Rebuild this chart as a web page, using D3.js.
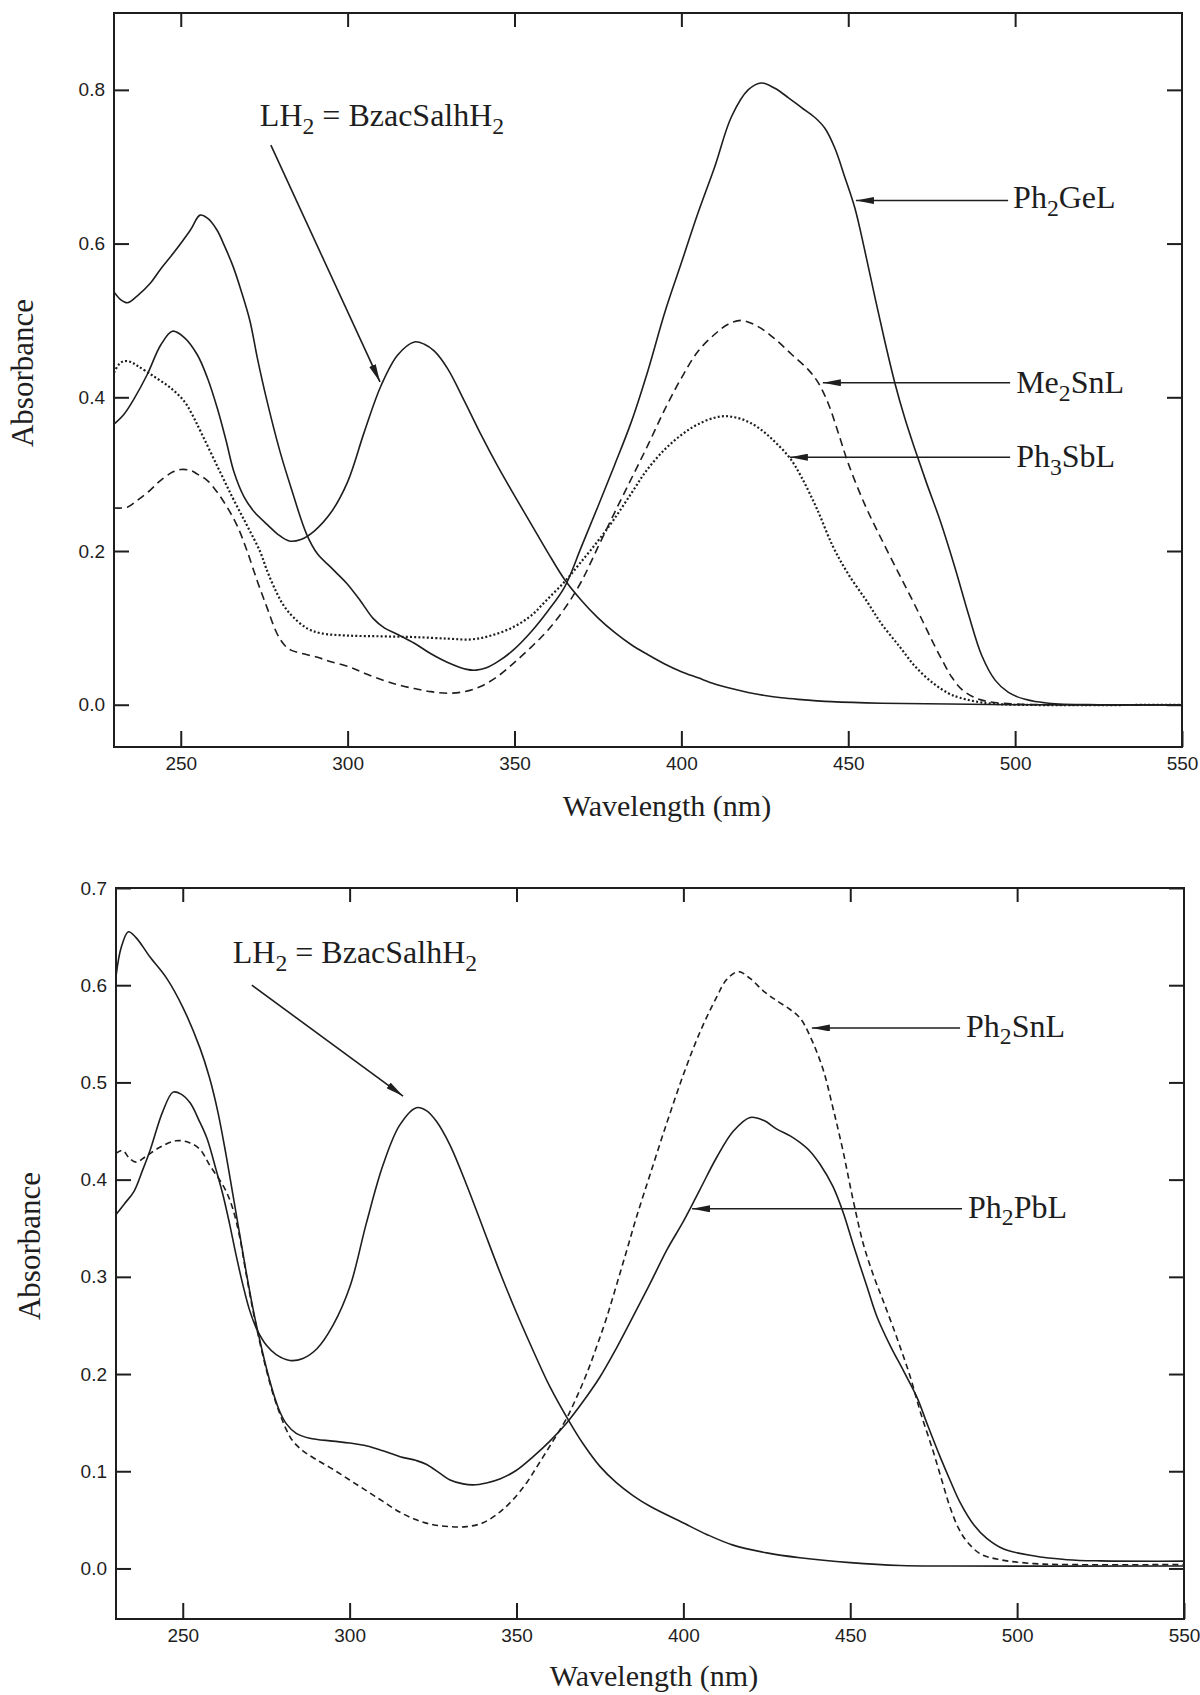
<!DOCTYPE html>
<html><head><meta charset="utf-8">
<script src="https://cdn.jsdelivr.net/npm/d3@7"></script>
<style>body{margin:0;background:#fff}svg text{white-space:pre}</style>
</head><body>
<svg id="chart" width="1200" height="1695"></svg>
<script>
// ---------- tick values ----------
const xTicks = [250, 300, 350, 400, 450, 500, 550];
const yTicksTop = [0.0, 0.2, 0.4, 0.6, 0.8];
const yTicksBot = [0.0, 0.1, 0.2, 0.3, 0.4, 0.5, 0.6, 0.7];
const xTitle = "Wavelength (nm)";
const yTitle = "Absorbance";

// ---------- top panel series  [wavelength nm, absorbance] ----------
const topLH2 = [[230,0.365],[233,0.378],[236,0.398],[240,0.43],[244,0.468],[247.5,0.486],[251,0.478],[255,0.455],[258,0.425],[261,0.385],[263.5,0.345],[266,0.302],[269,0.27],[272,0.251],[276,0.234],[279,0.222],[282.5,0.213],[286,0.215],[290,0.226],[295,0.25],[300,0.29],[305,0.355],[310,0.415],[315,0.455],[320,0.472],[323,0.469],[326,0.46],[330,0.437],[335,0.395],[340,0.351],[345,0.31],[350,0.272],[355,0.235],[360,0.198],[365,0.163],[370,0.136],[375,0.113],[380,0.094],[385,0.078],[390,0.065],[395,0.053],[400,0.043],[405,0.035],[410,0.027],[415,0.021],[420,0.016],[425,0.012],[430,0.009],[435,0.007],[445,0.004],[460,0.002],[480,0.001],[500,0],[550,0]];
const topPh2GeL = [[230,0.537],[232,0.527],[234,0.523],[237,0.532],[240.8,0.548],[244,0.567],[247.7,0.587],[252.8,0.617],[255.8,0.637],[258,0.633],[260.8,0.618],[263,0.598],[265.7,0.57],[268,0.54],[270.7,0.5],[273,0.45],[275.8,0.396],[279.7,0.33],[283,0.283],[287.7,0.222],[291,0.196],[294.7,0.18],[297,0.17],[299.7,0.158],[303.7,0.136],[307.7,0.112],[311,0.1],[314.7,0.092],[320,0.08],[324.7,0.067],[330,0.055],[335.7,0.046],[338.5,0.045],[341.6,0.048],[345,0.056],[349.6,0.071],[355,0.095],[360,0.122],[365,0.153],[370,0.205],[375,0.258],[380,0.312],[385,0.368],[390,0.435],[395,0.51],[400,0.575],[405,0.64],[410,0.7],[415,0.765],[420,0.8],[424,0.809],[428,0.802],[432,0.79],[436,0.777],[440,0.764],[443,0.75],[446,0.724],[449,0.686],[452,0.646],[455,0.59],[458,0.53],[461,0.472],[464,0.418],[467,0.372],[470,0.332],[473.5,0.288],[477.5,0.24],[482,0.178],[486,0.118],[490,0.064],[494,0.032],[498,0.016],[503,0.007],[510,0.002],[525,0],[550,0]];
const topMe2SnL = [[230,0.256],[234,0.257],[237,0.266],[240.8,0.279],[244,0.292],[247.7,0.303],[250,0.306],[252.8,0.305],[255,0.3],[257.9,0.292],[261,0.276],[263.9,0.257],[267,0.232],[269.8,0.201],[273,0.16],[275.8,0.127],[278.8,0.093],[281,0.078],[283,0.071],[286,0.067],[290.7,0.062],[295,0.056],[300.7,0.049],[305,0.041],[310.6,0.032],[315,0.026],[320,0.021],[325,0.017],[330,0.015],[335,0.017],[340,0.024],[345,0.037],[350,0.055],[355,0.075],[360,0.097],[365,0.125],[370,0.16],[375,0.205],[380,0.25],[385,0.294],[390,0.338],[395,0.384],[400,0.425],[405,0.46],[410,0.482],[414,0.495],[418,0.5],[423,0.492],[428,0.476],[433,0.456],[438,0.436],[441,0.419],[444,0.392],[447,0.354],[450,0.314],[455,0.26],[460,0.215],[465,0.172],[469,0.138],[472.5,0.107],[475.5,0.08],[478.5,0.055],[481,0.036],[484,0.02],[487.5,0.01],[492,0.004],[500,0.001],[510,0],[550,0]];
const topPh3SbL = [[230,0.432],[231.5,0.443],[233,0.447],[235,0.446],[237,0.441],[242,0.427],[247,0.412],[251,0.395],[253.5,0.377],[256,0.355],[261,0.31],[265.7,0.268],[270,0.232],[273.7,0.2],[276,0.173],[278.7,0.146],[281,0.128],[283.7,0.114],[288,0.099],[292,0.093],[300,0.09],[310,0.089],[320,0.088],[330,0.086],[337,0.085],[343,0.09],[349.6,0.101],[355,0.116],[359.6,0.136],[365,0.16],[369.6,0.184],[375,0.213],[379.6,0.24],[385,0.275],[389.6,0.305],[395,0.332],[400,0.351],[405,0.365],[411.6,0.375],[416,0.374],[420.6,0.367],[425,0.354],[428.5,0.34],[432.5,0.321],[436,0.296],[440.6,0.255],[445.4,0.206],[450,0.17],[455.5,0.135],[460,0.105],[465.5,0.075],[470,0.05],[475.4,0.028],[480,0.015],[483.5,0.009],[491.5,0.002],[500,0],[550,0]];

// ---------- bottom panel series ----------
const botLH2 = [[230,0.364],[232.5,0.375],[235.4,0.388],[238,0.41],[240.2,0.43],[244,0.47],[247.1,0.49],[249.5,0.488],[252.2,0.479],[255,0.46],[257.3,0.442],[260,0.41],[262,0.385],[264,0.355],[266,0.322],[268,0.292],[270,0.266],[272.2,0.246],[275.2,0.229],[278,0.22],[282.1,0.214],[286,0.216],[290.2,0.226],[295,0.25],[300.1,0.29],[305,0.355],[310,0.415],[315,0.456],[320,0.474],[323,0.471],[326,0.46],[330,0.436],[335,0.395],[340,0.35],[345,0.305],[350,0.263],[355,0.224],[360,0.187],[366,0.15],[370,0.128],[375,0.105],[380,0.088],[384.9,0.075],[390,0.064],[399.9,0.047],[407,0.035],[414.9,0.024],[425,0.016],[434.9,0.011],[450,0.006],[465,0.003],[480,0.0025],[550,0.0025]];
const botPh2PbL = [[230,0.609],[231.5,0.638],[233.7,0.655],[236,0.649],[240.2,0.629],[245.2,0.607],[250.2,0.576],[255.2,0.535],[258,0.505],[260.5,0.47],[263,0.425],[265,0.385],[267,0.345],[269,0.305],[271,0.268],[273,0.236],[275,0.207],[277,0.182],[279,0.162],[281,0.149],[284,0.139],[288,0.134],[295,0.131],[300,0.129],[305.2,0.126],[310,0.121],[315.1,0.115],[320,0.111],[323.1,0.107],[327,0.098],[330.1,0.091],[334,0.087],[337,0.086],[341,0.088],[345,0.092],[350,0.101],[355,0.115],[360,0.131],[365.1,0.15],[370,0.172],[375,0.197],[380,0.227],[384.9,0.259],[390,0.293],[395.1,0.328],[400,0.357],[405,0.39],[410,0.423],[415,0.45],[420,0.464],[424,0.461],[428,0.452],[432,0.445],[435,0.438],[438,0.429],[440.9,0.416],[444.8,0.393],[447.8,0.367],[451,0.332],[455,0.29],[458,0.259],[462,0.229],[466,0.203],[470,0.176],[473,0.149],[476.9,0.115],[480,0.09],[482.9,0.068],[487,0.045],[490.9,0.031],[496,0.02],[504.8,0.013],[515,0.009],[525,0.0078],[550,0.0075]];
const botPh2SnL = [[230,0.427],[232,0.43],[234,0.422],[236,0.418],[239,0.424],[243,0.433],[248,0.44],[252,0.438],[255.2,0.431],[258.2,0.414],[261,0.4],[263,0.388],[265,0.37],[267,0.342],[269,0.303],[271,0.266],[273,0.234],[275,0.205],[277,0.18],[279,0.16],[281,0.143],[283,0.131],[286,0.121],[290,0.112],[295,0.102],[300,0.091],[305,0.08],[310,0.069],[315,0.058],[320,0.05],[325,0.045],[330,0.043],[335,0.043],[340,0.047],[345,0.058],[349,0.071],[353,0.088],[356,0.104],[359.1,0.121],[362,0.137],[365.1,0.155],[368,0.176],[371.1,0.201],[374,0.228],[377.1,0.259],[380,0.292],[383.1,0.328],[386,0.362],[390,0.405],[395,0.458],[400,0.508],[405,0.552],[410,0.588],[413,0.606],[416.5,0.614],[420,0.607],[424,0.594],[428,0.584],[432,0.575],[435,0.566],[437.9,0.548],[441.8,0.514],[444.8,0.474],[447.8,0.43],[450.8,0.38],[453.9,0.334],[457,0.301],[459.9,0.275],[464,0.237],[467.9,0.198],[471,0.161],[474.8,0.121],[477.5,0.09],[479.9,0.063],[482.5,0.041],[484.9,0.028],[489,0.015],[494.9,0.009],[505,0.005],[514.8,0.004],[550,0.004]];

// ---------- annotation anchors (data units) ----------
const topNotes = [
  {parts:[["Ph",0],["2",1],["GeL",0]], from:[497.9,0.656], to:[452.3,0.656], text:[499.4,0.646]},
  {parts:[["Me",0],["2",1],["SnL",0]], from:[498.5,0.419], to:[442.4,0.419], text:[500.3,0.405]},
  {parts:[["Ph",0],["3",1],["SbL",0]], from:[498.5,0.322], to:[432.5,0.322], text:[500.3,0.309]},
  {parts:[["LH",0],["2",1],[" = BzacSalhH",0],["2",1]], from:[277,0.728], to:[309.7,0.42], text:[273.7,0.753]}
];
const botNotes = [
  {parts:[["Ph",0],["2",1],["SnL",0]], from:[482.9,0.556], to:[438.5,0.556], text:[484.7,0.547]},
  {parts:[["Ph",0],["2",1],["PbL",0]], from:[483.5,0.37], to:[402.6,0.37], text:[485.3,0.361]},
  {parts:[["LH",0],["2",1],[" = BzacSalhH",0],["2",1]], from:[270.7,0.6], to:[316,0.486], text:[265,0.623]}
];

// ---------- drawing ----------
const svg = d3.select("#chart");
const INK = "#1e1e1e";
const SERIF = "'Liberation Serif','Times New Roman',serif";
const SANS = "'Liberation Sans',Arimo,sans-serif";

const defs = svg.append("defs");
defs.append("marker").attr("id","ah").attr("viewBox","0 0 18 7")
  .attr("refX",18).attr("refY",3.5).attr("markerWidth",18).attr("markerHeight",7)
  .attr("markerUnits","userSpaceOnUse").attr("orient","auto")
  .append("path").attr("d","M0,0 L18,3.5 L0,7 Z").attr("fill",INK);

function richText(g, parts, x, y, size) {
  const t = g.append("text").attr("x",x).attr("y",y)
    .attr("font-family",SERIF).attr("font-size",size).attr("fill",INK);
  let shifted = false;
  parts.forEach(([s,sub]) => {
    const ts = t.append("tspan").text(s);
    if (sub && !shifted) { ts.attr("dy", size*0.24).attr("font-size", size*0.74); shifted = true; }
    else if (!sub && shifted) { ts.attr("dy", -size*0.24); shifted = false; }
    else if (sub) ts.attr("font-size", size*0.74);
  });
  return t;
}

function panel(cfg) {
  const x = d3.scaleLinear().domain([230,550]).range([cfg.left, cfg.right]);
  const y = d3.scaleLinear().domain(cfg.yDomain).range([cfg.bottom, cfg.top]);
  const g = svg.append("g");
  const clipId = "clip"+cfg.id;
  defs.append("clipPath").attr("id",clipId).append("rect")
    .attr("x",cfg.left).attr("y",cfg.top).attr("width",cfg.right-cfg.left).attr("height",cfg.bottom-cfg.top);

  const line = d3.line().x(d=>x(d[0])).y(d=>y(d[1])).curve(d3.curveCatmullRom.alpha(0.5));
  const cg = g.append("g").attr("clip-path",`url(#${clipId})`);
  cfg.series.forEach(s => {
    cg.append("path").datum(s.data).attr("d",line).attr("fill","none")
      .attr("stroke",INK).attr("stroke-width",s.w||1.6)
      .attr("stroke-dasharray",s.dash||null).attr("stroke-linejoin","round");
  });

  // axes (ticks pointing inward)
  const styleAxis = sel => {
    sel.select(".domain").remove();
    sel.selectAll(".tick line").attr("stroke",INK).attr("stroke-width",2);
    sel.selectAll(".tick text").attr("fill",INK).attr("font-family",SANS);
  };
  g.append("g").attr("transform",`translate(0,${cfg.bottom})`)
    .call(d3.axisBottom(x).tickValues(xTicks).tickSizeInner(-16).tickSizeOuter(0).tickPadding(10).tickFormat(d3.format("d")))
    .call(styleAxis).call(s=>s.selectAll(".tick text").attr("font-size",19));
  g.append("g").attr("transform",`translate(0,${cfg.top})`)
    .call(d3.axisTop(x).tickValues(xTicks.slice(0,-1)).tickSizeInner(-14).tickSizeOuter(0).tickFormat(""))
    .call(styleAxis);
  g.append("g").attr("transform",`translate(${cfg.left},0)`)
    .call(d3.axisLeft(y).tickValues(cfg.yTicks).tickSizeInner(-15).tickSizeOuter(0).tickPadding(9).tickFormat(d3.format(".1f")))
    .call(styleAxis).call(s=>s.selectAll(".tick text").attr("font-size",19));
  g.append("g").attr("transform",`translate(${cfg.right},0)`)
    .call(d3.axisRight(y).tickValues(cfg.yTicks).tickSizeInner(-15).tickSizeOuter(0).tickFormat(""))
    .call(styleAxis);

  // frame
  g.append("rect").attr("x",cfg.left).attr("y",cfg.top)
    .attr("width",cfg.right-cfg.left).attr("height",cfg.bottom-cfg.top)
    .attr("fill","none").attr("stroke",INK).attr("stroke-width",2);

  // titles
  g.append("text").attr("x",cfg.xTitlePos[0]).attr("y",cfg.xTitlePos[1])
    .attr("text-anchor","middle").attr("font-family",SERIF).attr("font-size",30).attr("fill",INK).text(xTitle);
  g.append("text").attr("transform",`translate(${cfg.yTitlePos[0]},${cfg.yTitlePos[1]}) rotate(-90)`)
    .attr("text-anchor","middle").attr("font-family",SERIF).attr("font-size",31).attr("fill",INK).text(yTitle);

  // annotations
  cfg.notes.forEach(n => {
    g.append("line").attr("x1",x(n.from[0])).attr("y1",y(n.from[1]))
      .attr("x2",x(n.to[0])).attr("y2",y(n.to[1]))
      .attr("stroke",INK).attr("stroke-width",1.6).attr("marker-end","url(#ah)");
    richText(g, n.parts, x(n.text[0]), y(n.text[1]), 32);
  });
}

panel({
  id:"top", left:114, right:1182, top:13, bottom:747, yDomain:[-0.055,0.9], yTicks:yTicksTop,
  xTitlePos:[667,816], yTitlePos:[33,373],
  series:[
    {data:topLH2},
    {data:topPh2GeL},
    {data:topMe2SnL, dash:"8,5"},
    {data:topPh3SbL, dash:"2,2.2", w:2.2}
  ],
  notes: topNotes
});
panel({
  id:"bot", left:116, right:1184, top:888, bottom:1619, yDomain:[-0.052,0.7], yTicks:yTicksBot,
  xTitlePos:[654,1686], yTitlePos:[40,1246],
  series:[
    {data:botLH2},
    {data:botPh2PbL},
    {data:botPh2SnL, dash:"6,4"}
  ],
  notes: botNotes
});
</script>
</body></html>
